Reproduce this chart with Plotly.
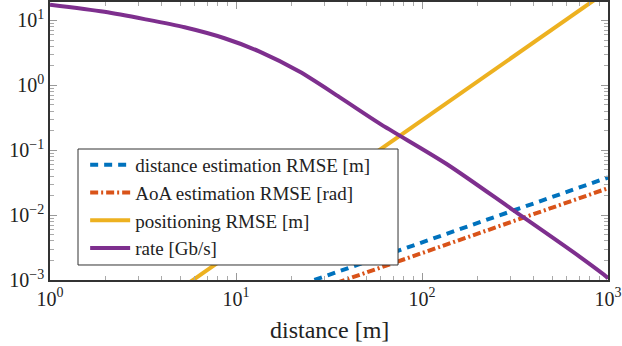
import plotly.graph_objects as go

# values (log-log axes)
dist_lin = [1, 10, 100, 1000]
dist_rmse = [3.8e-5, 3.8e-4, 3.8e-3, 3.8e-2]
aoa_rmse = [2.6e-5, 2.6e-4, 2.6e-3, 2.6e-2]
pos_rmse = [2.9e-5, 2.9e-3, 0.29, 29.0]

dist_rate = [1, 1.96, 3.22, 5.29, 8.67, 13.4, 21.9, 36.0, 59.0, 135, 306, 703, 982, 1000]
rate = [17.5, 13.6, 10.5, 7.85, 5.32, 3.31, 1.63, 0.66, 0.26, 0.062, 0.0122, 0.0023, 0.00112, 0.00105]

tick_vals_x = [1, 10, 100, 1000]
tick_text_x = ["10<sup>0</sup>", "10<sup>1</sup>", "10<sup>2</sup>", "10<sup>3</sup>"]
tick_vals_y = [1e-3, 1e-2, 1e-1, 1, 10]
tick_text_y = ["10<sup>\u22123</sup>", "10<sup>\u22122</sup>", "10<sup>\u22121</sup>", "10<sup>0</sup>", "10<sup>1</sup>"]

FONT = "Liberation Serif, Times New Roman, serif"
TXT = "#222222"

fig = go.Figure()
fig.add_trace(go.Scatter(x=dist_lin, y=dist_rmse, mode="lines", name="distance estimation RMSE [m]",
                         line=dict(color="#0072BD", width=4, dash="8px,6px")))
fig.add_trace(go.Scatter(x=dist_lin, y=aoa_rmse, mode="lines", name="AoA estimation RMSE [rad]",
                         line=dict(color="#D95319", width=4, dash="8px,3px,2px,3px")))
fig.add_trace(go.Scatter(x=dist_lin, y=pos_rmse, mode="lines", name="positioning RMSE [m]",
                         line=dict(color="#EDB120", width=4)))
fig.add_trace(go.Scatter(x=dist_rate, y=rate, mode="lines", name="rate [Gb/s]",
                         line=dict(color="#7E2F8E", width=4, shape="spline", smoothing=0.8)))

axis_common = dict(
    type="log", showgrid=False, zeroline=False, automargin=False,
    showline=True, linecolor="#333333", linewidth=1.5, mirror="allticks",
    ticks="inside", ticklen=7, tickcolor="#999999", tickwidth=1,
    minor=dict(ticks="inside", ticklen=4, tickcolor="#aaaaaa", dtick="D1", showgrid=False),
    tickfont=dict(family=FONT, size=20, color=TXT),
)

fig.update_xaxes(**axis_common, range=[0, 3], tickvals=tick_vals_x, ticktext=tick_text_x)
fig.update_yaxes(**axis_common, range=[-3, 1.285], tickvals=tick_vals_y, ticktext=tick_text_y)

fig.add_annotation(text="distance [m]", xref="paper", yref="paper", x=0.5, y=-0.18,
                   xanchor="center", yanchor="middle", showarrow=False,
                   font=dict(family=FONT, size=24, color=TXT))

# legend frame drawn as a shape so its size can match the reference box
fig.add_shape(type="rect", xref="paper", yref="paper", x0=0.0502, x1=0.6237, y0=0.054, y1=0.4712,
              line=dict(color="#333333", width=1), fillcolor="white", layer="above")

fig.update_layout(
    width=622, height=346,
    margin=dict(l=50, r=14, t=2, b=66),
    plot_bgcolor="white", paper_bgcolor="white",
    font=dict(family=FONT, color=TXT),
    legend=dict(x=0.063, y=0.482, xanchor="left", yanchor="top",
                bgcolor="rgba(0,0,0,0)", borderwidth=0,
                font=dict(family=FONT, size=19, color=TXT),
                tracegroupgap=0, itemwidth=40),
    showlegend=True,
)

fig.write_html("out.html", config={"displayModeBar": False},
               post_script="document.body.style.margin='0';")
